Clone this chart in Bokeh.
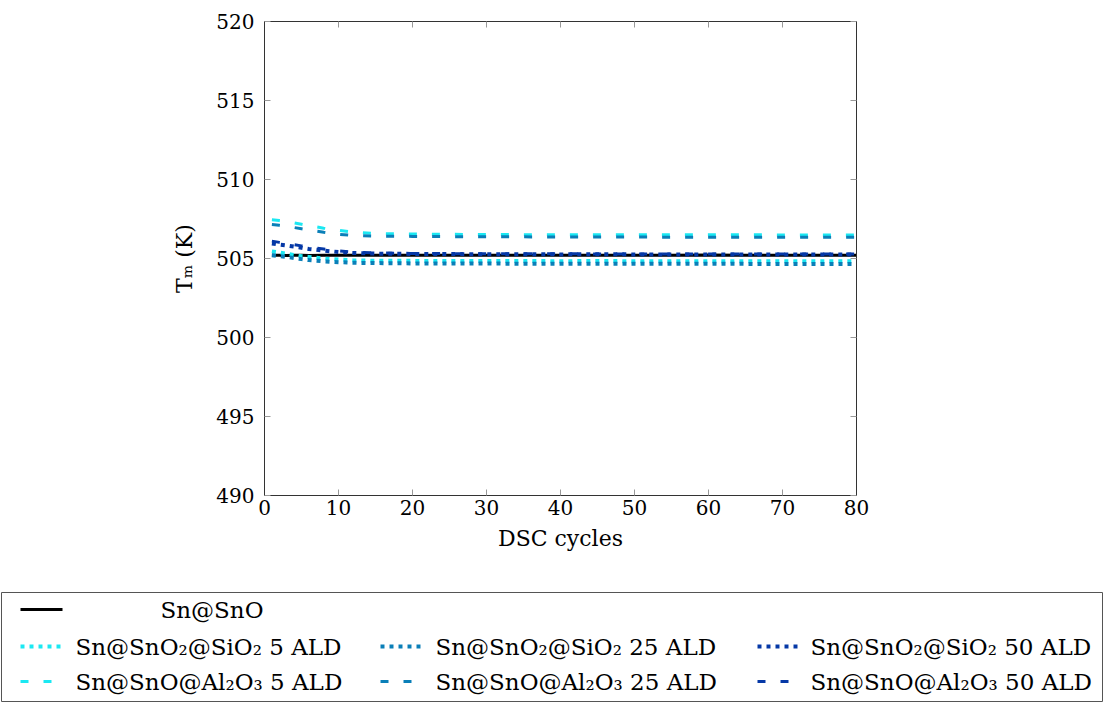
from bokeh.plotting import figure
from bokeh.models import Range1d, LinearAxis, FixedTicker
from bokeh.layouts import column, row
from bokeh.core.properties import value
from bokeh.embed import file_html
from bokeh.resources import INLINE

cycles = [1, 2, 3, 4, 5, 6, 8, 10, 12, 15, 20, 25, 30, 35, 40, 45, 50, 55, 60, 65, 70, 75, 80]

sn_sno = [505.2, 505.2, 505.19, 505.2, 505.2, 505.19, 505.2, 505.2, 505.2, 505.2, 505.2, 505.21, 505.2,
          505.2, 505.21, 505.2, 505.21, 505.21, 505.22, 505.21, 505.21, 505.21, 505.21]
sio2_5 = [505.45, 505.38, 505.3, 505.22, 505.15, 505.1, 505.0, 504.93, 504.88, 504.86, 504.85, 504.84, 504.84,
          504.84, 504.83, 504.84, 504.83, 504.83, 504.83, 504.82, 504.83, 504.82, 504.82]
sio2_25 = [505.2, 505.15, 505.1, 505.03, 504.96, 504.9, 504.82, 504.77, 504.73, 504.71, 504.69, 504.68, 504.68,
           504.67, 504.67, 504.67, 504.66, 504.66, 504.66, 504.66, 504.65, 504.65, 504.65]
sio2_50 = [505.95, 505.88, 505.82, 505.75, 505.68, 505.6, 505.5, 505.41, 505.35, 505.31, 505.29, 505.28, 505.27,
           505.27, 505.26, 505.27, 505.26, 505.26, 505.26, 505.26, 505.25, 505.26, 505.25]
al2o3_5 = [507.45, 507.4, 507.33, 507.26, 507.17, 507.08, 506.92, 506.78, 506.66, 506.58, 506.55, 506.53, 506.52,
           506.51, 506.51, 506.5, 506.5, 506.5, 506.5, 506.5, 506.49, 506.49, 506.49]
al2o3_25 = [507.15, 507.1, 507.03, 506.96, 506.88, 506.8, 506.66, 506.53, 506.46, 506.42, 506.4, 506.38, 506.37,
            506.37, 506.36, 506.36, 506.36, 506.35, 506.35, 506.35, 506.35, 506.35, 506.35]
al2o3_50 = [506.1, 506.02, 505.95, 505.88, 505.8, 505.72, 505.6, 505.48, 505.4, 505.35, 505.32, 505.31, 505.3,
            505.3, 505.3, 505.29, 505.29, 505.29, 505.29, 505.29, 505.29, 505.29, 505.29]

labels = ["Sn@SnO", "Sn@SnO\u2082@SiO\u2082 5 ALD", "Sn@SnO\u2082@SiO\u2082 25 ALD", "Sn@SnO\u2082@SiO\u2082 50 ALD",
          "Sn@SnO@Al\u2082O\u2083 5 ALD", "Sn@SnO@Al\u2082O\u2083 25 ALD", "Sn@SnO@Al\u2082O\u2083 50 ALD"]
series = [sn_sno, sio2_5, sio2_25, sio2_50, al2o3_5, al2o3_25, al2o3_50]
colors = ["#000000", "#1BE8F2", "#0A7FB8", "#0538A6", "#1BE8F2", "#0A7FB8", "#0538A6"]
dashes = ["solid", "4 5", "4 5", "4 5", "8 15", "8 15", "8 15"]
widths = [3, 4, 4, 4, 3, 3, 3]

x_ticks = [0, 10, 20, 30, 40, 50, 60, 70, 80]
y_ticks = [490, 495, 500, 505, 510, 515, 520]

FONT = "DejaVu Serif"

p = figure(width=1103, height=585, x_range=Range1d(0, 80), y_range=Range1d(490, 520),
           output_backend="svg", toolbar_location=None,
           min_border_left=264, min_border_right=247, min_border_top=21, min_border_bottom=90)
p.xgrid.visible = False
p.ygrid.visible = False
p.outline_line_color = "#333333"
p.outline_line_width = 1

for ax in (p.xaxis[0], p.yaxis[0]):
    ax.major_tick_in = 6
    ax.major_tick_out = 0
    ax.minor_tick_line_color = None
    ax.major_tick_line_color = "#999999"
    ax.axis_line_color = "#333333"
    ax.major_label_text_font = FONT
    ax.major_label_text_font_size = "20px"
    ax.major_label_text_color = "black"
    ax.axis_label_text_font = FONT
    ax.axis_label_text_font_size = "22px"
    ax.axis_label_text_font_style = "normal"
    ax.axis_label_text_color = "black"

p.xaxis[0].ticker = FixedTicker(ticks=x_ticks)
p.yaxis[0].ticker = FixedTicker(ticks=y_ticks)
p.xaxis[0].axis_label = "DSC cycles"
p.yaxis[0].axis_label = "T\u2098 (K)"
p.xaxis[0].major_label_standoff = 4
p.xaxis[0].axis_label_standoff = 8
p.yaxis[0].major_label_standoff = 10
p.yaxis[0].axis_label_standoff = 16

right = LinearAxis(ticker=FixedTicker(ticks=y_ticks), major_label_overrides={t: "" for t in y_ticks},
                   major_tick_in=6, major_tick_out=0, minor_tick_line_color=None,
                   major_tick_line_color="#999999", axis_line_color="#333333", major_label_standoff=0)
top = LinearAxis(ticker=FixedTicker(ticks=x_ticks), major_label_overrides={t: "" for t in x_ticks},
                 major_tick_in=6, major_tick_out=0, minor_tick_line_color=None,
                 major_tick_line_color="#999999", axis_line_color="#333333", major_label_standoff=0)
p.add_layout(right, "right")
p.add_layout(top, "above")

for ys, c, d, w in zip(series, colors, dashes, widths):
    p.line(cycles, ys, line_color=c, line_width=w, line_dash=d, line_cap="butt")

# Legend panel
lg = figure(width=1103, height=117, x_range=Range1d(0, 1103), y_range=Range1d(117, 0),
            output_backend="svg", toolbar_location=None,
            min_border_left=0, min_border_right=0, min_border_top=0, min_border_bottom=0,
            x_axis_type=None, y_axis_type=None)
lg.xgrid.visible = False
lg.ygrid.visible = False
lg.outline_line_color = None
lg.quad(left=[1], right=[1102], top=[7], bottom=[116], fill_color=None, line_color="#555555", line_width=1)

row_y = [24, 61, 96]
col_sample_x = [20, 380, 757]
col_text_x = [75, 435, 810]
lg.segment(x0=[col_sample_x[0]], y0=[row_y[0]], x1=[col_sample_x[0] + 42], y1=[row_y[0]],
           line_color=colors[0], line_width=widths[0], line_dash=dashes[0], line_cap="butt")
lg.text(x=[160], y=[row_y[0]], text=[labels[0]], text_font=value(FONT), text_font_size="23px",
        text_baseline="middle", text_align="left", text_color="black")
for i in range(1, 7):
    r = 1 + (i - 1) // 3
    cidx = (i - 1) % 3
    x0 = col_sample_x[cidx]
    lg.segment(x0=[x0], y0=[row_y[r]], x1=[x0 + 42], y1=[row_y[r]],
               line_color=colors[i], line_width=widths[i], line_dash=dashes[i], line_cap="butt")
    lg.text(x=[col_text_x[cidx]], y=[row_y[r]], text=[labels[i]], text_font=value(FONT), text_font_size="23px",
            text_baseline="middle", text_align="left", text_color="black")

layout = column(p, row(lg))
open("out.html", "w").write(file_html(layout, INLINE))
